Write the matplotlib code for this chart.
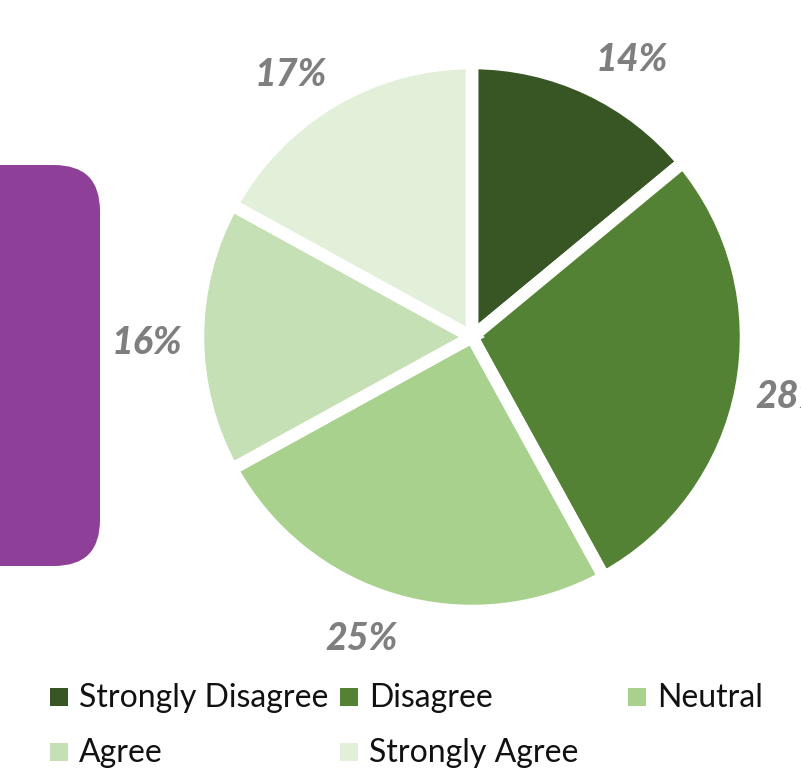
import matplotlib
matplotlib.use("Agg")
import matplotlib.pyplot as plt
from matplotlib.patches import FancyBboxPatch, Rectangle

# Survey response shares (percent)
categories = ["Strongly Disagree", "Disagree", "Neutral", "Agree", "Strongly Agree"]
shares = [14, 28, 25, 16, 17]
colors = ["#375623", "#548235", "#a9d18e", "#c5e0b4", "#e2f0d9"]

W, H = 801, 771
fig = plt.figure(figsize=(W / 100, H / 100), dpi=100)
ax = fig.add_axes([0, 0, 1, 1])

# work in pixel units, y measured from the bottom
cx, cy, r = 472, H - 337, 274

wedges, _, pcts = ax.pie(
    shares,
    colors=colors,
    startangle=90,
    counterclock=False,
    center=(cx, cy),
    radius=r,
    autopct="%.0f%%",
    pctdistance=1.15,
    wedgeprops=dict(edgecolor="white", linewidth=9),
    textprops=dict(color="#7f7f7f", fontsize=27, fontweight="black",
                   fontstyle="italic", family="Lato"),
)

# small nudges so the outer labels sit like best-fit placement
nudges = [(26, -8), (10, 0), (-22, 1), (-10, -6), (-21, -9)]
for t, (dx, dy) in zip(pcts, nudges):
    x, y = t.get_position()
    t.set_position((x + dx, y + dy))

# purple side panel
ax.add_patch(FancyBboxPatch((-80, H - 566), 180, 401,
                            boxstyle="round,pad=0,rounding_size=46",
                            facecolor="#8e4098", edgecolor="none"))

# legend laid out in equal-width columns, row-major
col_x = [50, 340, 628]
row_y = [697, 752]
for i, (name, c) in enumerate(zip(categories, colors)):
    row, col = divmod(i, 3)
    x, y = col_x[col], H - row_y[row]
    ax.add_patch(Rectangle((x, y - 9), 18, 18, facecolor=c, edgecolor="none"))
    ax.text(x + 29, y - 1, name, fontsize=23, family="Lato", color="#111111",
            ha="left", va="center")

ax.set_xlim(0, W)
ax.set_ylim(0, H)
ax.set_aspect("auto")
ax.axis("off")

fig.savefig("out.png", dpi=100)
